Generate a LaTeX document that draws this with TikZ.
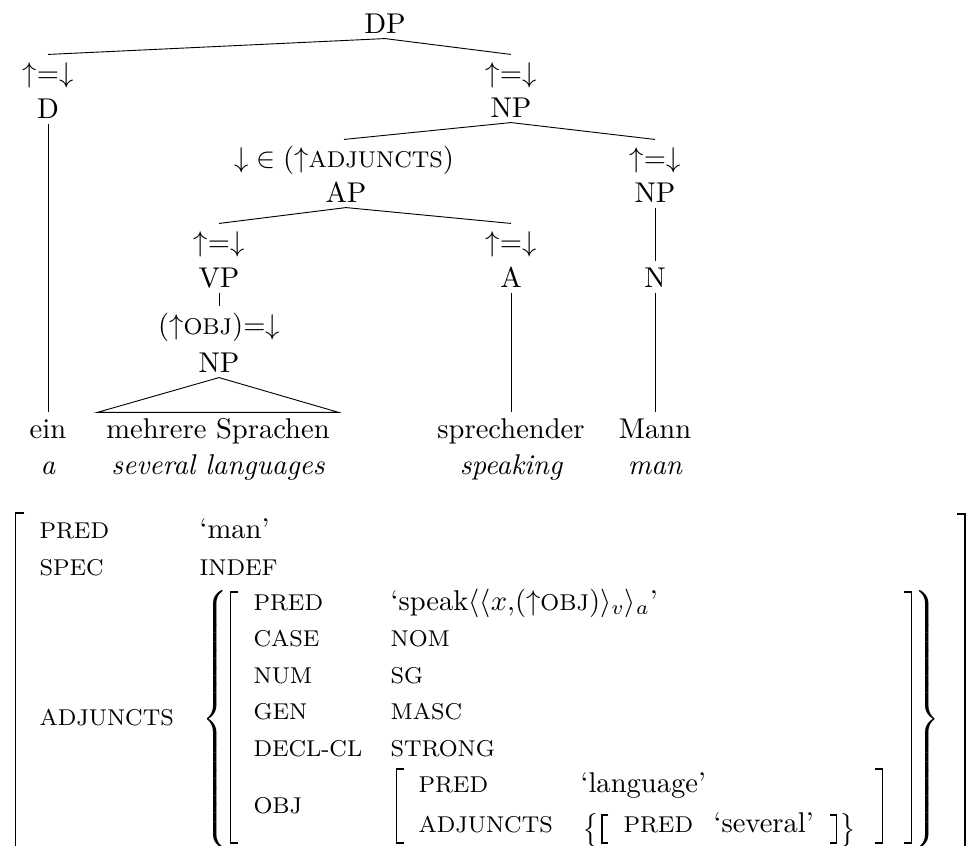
\documentclass[tikz,border=0pt]{standalone}
\usetikzlibrary{calc}
\newcommand\mydelimL[2]{$\delimiterfactor=1000\delimitershortfall=0pt\left#1\vcenter{\hbox{\rule{0pt}{#2}}}\right.$}
\newcommand\mydelimR[2]{$\delimiterfactor=1000\delimitershortfall=0pt\left.\vcenter{\hbox{\rule{0pt}{#2}}}\right#1$}
\newcommand\SC[1]{\mbox{\fontsize{8}{9.6}\selectfont #1}}
\newcommand\ud{${\uparrow}{=}{\downarrow}$}
\begin{document}
\begin{tikzpicture}[x=0.34979pt,y=-0.34979pt,
  cat/.style={anchor=base,inner sep=0pt,text height=8.74pt,text depth=1.75pt},
  ann/.style={anchor=base,inner sep=0pt,text height=9.44pt,text depth=1.75pt},
  word/.style={anchor=base,inner xsep=3pt,inner ysep=0pt,text height=8.74pt,text depth=0pt},
  gloss/.style={anchor=base,inner sep=0pt,font=\itshape},
  edge/.style={line width=0.32pt},
  key/.style={anchor=base west,inner sep=0pt,font=\fontsize{8}{9.6}\selectfont},
  val/.style={anchor=base west,inner sep=0pt},
  brk/.style={line width=0.6pt,line join=miter},
  dlm/.style={inner sep=0pt}]
\useasboundingbox (0,0) rectangle (972,846);
% ---------- tree ----------
\node[cat] (DP) at (385,33) {DP};
\node[ann] (l1) at (48,82) {\ud};
\node[cat] (D) at (48,118) {D};
\node[ann] (l2) at (511,82) {\ud};
\node[cat] (NP1) at (511,117) {NP};
\node[ann] (l3) at (344,167) {${\downarrow}\in({\uparrow}\SC{ADJUNCTS})$};
\node[cat] (AP) at (346,202) {AP};
\node[ann] (l4) at (655,167) {\ud};
\node[cat] (NP3) at (655,202) {NP};
\node[ann] (l5) at (219,251) {\ud};
\node[cat] (VP) at (219,287) {VP};
\node[ann] (l6) at (511,251) {\ud};
\node[cat] (A) at (511,287) {A};
\node[cat] (N) at (655,287) {N};
\node[ann] (l7) at (219,334) {$({\uparrow}\SC{OBJ}){=}{\downarrow}$};
\node[cat] (NP2) at (219,372) {NP};
\node[word] (w1) at (48,438) {ein};
\node[word] (w2) at (218,438) {mehrere Sprachen};
\node[word] (w3) at (511,438) {sprechender};
\node[word] (w4) at (655,438) {Mann};
\node[gloss] (g1) at (48,474) {a};
\node[gloss] (g2) at (218,474) {several languages};
\node[gloss] (g3) at (511,474) {speaking};
\node[gloss] (g4) at (655,474) {man};
\draw[edge] (l1.north) -- (DP.south) -- (l2.north);
\draw[edge] (D.south) -- (w1.north);
\draw[edge] (l3.north) -- (NP1.south) -- (l4.north);
\draw[edge] (l5.north) -- (AP.south) -- (l6.north);
\draw[edge] (NP3.south) -- (N.north);
\draw[edge] (VP.south) -- (l7.north);
\draw[edge] (NP2.south) -- (w2.north west) -- (w2.north east) -- cycle;
\draw[edge] (A.south) -- (w3.north);
\draw[edge] (N.south) -- (w4.north);
% ---------- f-structure ----------
\node[key] (k1) at (39,538) {PRED};
\node[val] (v1) at (199,538) {‘man’};
\node[key] (k2) at (39,575) {SPEC};
\node[key] (v2) at (199,575) {INDEF};
\node[key] (k3) at (39,725) {ADJUNCTS};
\node[key] (a1) at (253,610) {PRED};
\node[val] (b1) at (390,610) {‘speak$\langle\langle x{,}({\uparrow}\SC{OBJ})\rangle_v\rangle_a$’};
\node[key] (a2) at (253,646) {CASE};
\node[key] (b2) at (390,646) {NOM};
\node[key] (a3) at (253,683) {NUM};
\node[key] (b3) at (390,683) {SG};
\node[key] (a4) at (253,719) {GEN};
\node[key] (b4) at (390,719) {MASC};
\node[key] (a5) at (253,756) {DECL-CL};
\node[key] (b5) at (390,756) {STRONG};
\node[key] (a6) at (253,813) {OBJ};
\node[key] (c1) at (418,792) {PRED};
\node[val] (d1) at (580,792) {‘language’};
\node[key] (c2) at (418,832) {ADJUNCTS};
\node[key] (e1) at (623,832) {PRED};
\node[val] (f1) at (713,832) {‘several’};
% brackets
\draw[brk] (24,513) -| (15.5,880);
\draw[brk] (957,514) -| (965,880);
\draw[brk] (238,592) -| (230.5,843) -- (238,843);
\draw[brk] (904,592) -| (911.5,843) -- (904,843);
\draw[brk] (404,769) -| (396.5,843) -- (404,843);
\draw[brk] (875,769) -| (882.5,843) -- (875,843);
\draw[brk] (608,815) -| (602,843) -- (608,843);
\draw[brk] (830,815) -| (836.5,843) -- (830,843);
% braces
\node[dlm,anchor=north west] (br1) at (202,590) {\mydelimL{\{}{89pt}};
\node[dlm,anchor=north east] (br2) at (940,590) {\mydelimR{\}}{89pt}};
\node[dlm,anchor=north west] (br3) at (582,813) {\mydelimL{\{}{11pt}};
\node[dlm,anchor=north east] (br4) at (857,813) {\mydelimR{\}}{11pt}};
\end{tikzpicture}
\end{document}
